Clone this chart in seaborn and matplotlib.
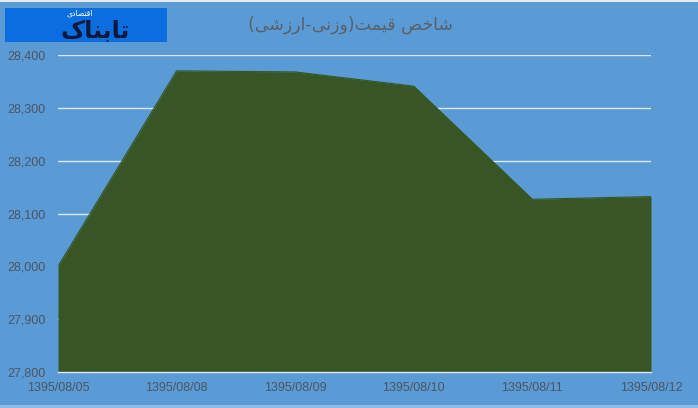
import numpy as np
import pandas as pd
import matplotlib
matplotlib.use("Agg")
import matplotlib.pyplot as plt
import seaborn as sns
from matplotlib.patches import Rectangle

# chart data
dates = ["1395/08/05", "1395/08/08", "1395/08/09", "1395/08/10", "1395/08/11", "1395/08/12"]
index_values = [28000, 28370, 28368, 28341, 28127, 28132]
y_ticks = [27800, 27900, 28000, 28100, 28200, 28300, 28400]

title_text = "شاخص قیمت(وزنی-ارزشی)"
logo_text = "تابناک"
logo_sub = "اقتصادی"

# simple Persian shaping (matplotlib has no bidi/shaping)
FORMS = {
    "ا": ("\uFE8D", "\uFE8E"), "د": ("\uFEA9", "\uFEAA"), "ر": ("\uFEAD", "\uFEAE"),
    "ز": ("\uFEAF", "\uFEB0"), "و": ("\uFEED", "\uFEEE"),
    "ب": ("\uFE8F", "\uFE90", "\uFE91", "\uFE92"), "ت": ("\uFE95", "\uFE96", "\uFE97", "\uFE98"),
    "خ": ("\uFEA5", "\uFEA6", "\uFEA7", "\uFEA8"), "ش": ("\uFEB5", "\uFEB6", "\uFEB7", "\uFEB8"),
    "ص": ("\uFEB9", "\uFEBA", "\uFEBB", "\uFEBC"), "ق": ("\uFED5", "\uFED6", "\uFED7", "\uFED8"),
    "م": ("\uFEE1", "\uFEE2", "\uFEE3", "\uFEE4"), "ن": ("\uFEE5", "\uFEE6", "\uFEE7", "\uFEE8"),
    "ی": ("\uFEEF", "\uFEF0", "\uFEF3", "\uFEF4"), "ک": ("\uFB8E", "\uFB8F", "\uFB90", "\uFB91"),
}
MIRROR = {"(": ")", ")": "("}


def shape(s):
    out = []
    for i, ch in enumerate(s):
        if ch not in FORMS:
            out.append(MIRROR.get(ch, ch))
            continue
        prev = s[i - 1] if i > 0 else ""
        nxt = s[i + 1] if i + 1 < len(s) else ""
        join_prev = prev in FORMS and len(FORMS[prev]) == 4
        join_next = len(FORMS[ch]) == 4 and nxt in FORMS
        f = FORMS[ch]
        if join_prev and join_next:
            out.append(f[3])
        elif join_prev:
            out.append(f[1])
        elif join_next:
            out.append(f[2])
        else:
            out.append(f[0])
    return "".join(out[::-1])


df = pd.DataFrame({"pos": np.arange(len(dates)), "value": index_values})

bg = "#5B9BD5"
fill = "#375623"
txt = "#4b5563"

sns.set_style("white")
plt.rcParams["font.family"] = ["Liberation Sans", "DejaVu Sans"]

fig = plt.figure(figsize=(6.98, 4.08), dpi=100, facecolor=bg)
ax = fig.add_axes([58 / 698, 36 / 408, 593 / 698, 317 / 408])
ax.set_facecolor(bg)

ax.fill_between(df["pos"], df["value"], 27800, color=fill, linewidth=0, zorder=2)
sns.lineplot(data=df, x="pos", y="value", color=fill, linewidth=0.8, ax=ax, zorder=3)

ax.set_xlim(0, len(dates) - 1)
ax.set_ylim(27800, 28400)
ax.set_yticks(y_ticks)
ax.set_yticklabels([f"{v:,}" for v in y_ticks], color=txt, fontsize=9)
ax.set_xticks(df["pos"])
ax.set_xticklabels(dates, color=txt, fontsize=9)
ax.set_xlabel("")
ax.set_ylabel("")

for v in y_ticks[1:]:
    ax.axhline(v, color="#dce8f5", linewidth=1, zorder=1)

for s in ["top", "right", "left"]:
    ax.spines[s].set_visible(False)
ax.spines["bottom"].set_color("#dce8f5")
ax.spines["bottom"].set_linewidth(1)
ax.spines["bottom"].set_zorder(4)
ax.tick_params(axis="x", length=5, width=1, color="#dce8f5", direction="out", pad=2)
ax.tick_params(axis="y", length=0, pad=9)

# title
fig.text(350 / 698, 1 - 25 / 408, shape(title_text), ha="center", va="center",
         fontsize=12.5, color="#59606a", family=["DejaVu Sans"])

# logo box
fig.patches.append(Rectangle((5 / 698, 1 - 42 / 408), 162 / 698, 34 / 408,
                             transform=fig.transFigure, facecolor="#0a6de0",
                             edgecolor="none", zorder=5))
fig.text(95 / 698, 1 - 31 / 408, shape(logo_text), ha="center", va="center",
         fontsize=17, color="#0b1a3a", fontweight="bold", family=["DejaVu Sans"], zorder=6)
fig.text(80 / 698, 1 - 13 / 408, shape(logo_sub), ha="center", va="center",
         fontsize=5.5, color="white", family=["DejaVu Sans"], zorder=6)

# strips at the very top and bottom
fig.patches.append(Rectangle((0, 1 - 2 / 408), 1, 2 / 408, transform=fig.transFigure,
                             facecolor="#e4e9ee", edgecolor="none"))
fig.patches.append(Rectangle((0, 0), 1, 3 / 408, transform=fig.transFigure,
                             facecolor="#8fbbe6", edgecolor="none"))

fig.savefig("out.png", dpi=100, facecolor=bg)
